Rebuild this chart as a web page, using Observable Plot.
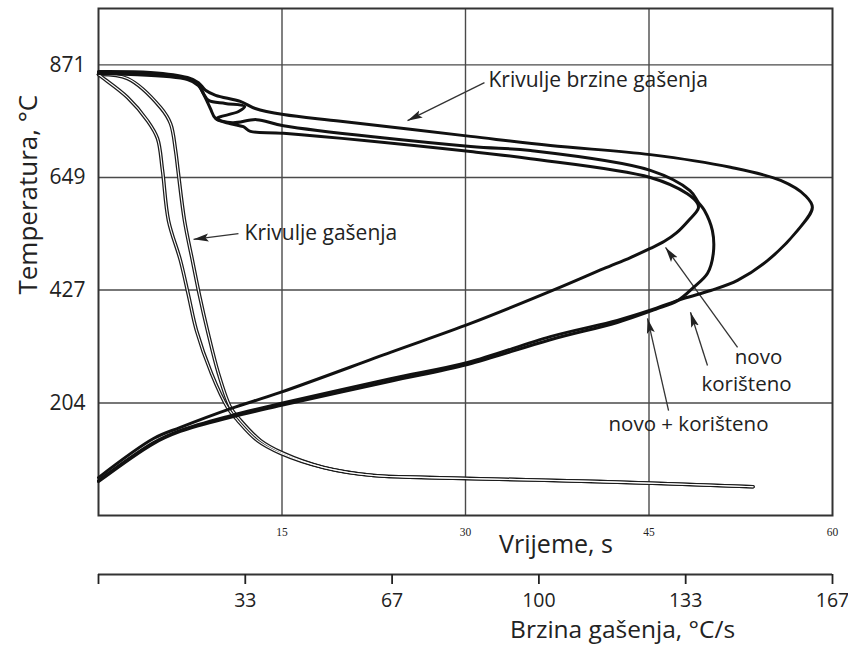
<!DOCTYPE html>
<html><head><meta charset="utf-8">
<script src="https://cdn.jsdelivr.net/npm/d3@7"></script>
<script src="https://cdn.jsdelivr.net/npm/@observablehq/plot@0.6"></script>
<style>
body{margin:0;background:#fff;font-family:"Open Sans",sans-serif;}
#wrap{position:relative;width:848px;height:654px;overflow:hidden;}
#wrap svg{display:block;}
#overlay{position:absolute;left:0;top:0;}
</style></head><body>
<div id="wrap"><div id="main"></div><div id="overlay"></div><div id="rate"></div></div>
<script>
// ---- axes / ticks ----
const timeTicks = [15, 30, 45, 60];
const tempTicks = [204, 427, 649, 871];
const rateTicks = [0, 33.33, 66.67, 100, 133.33, 166.67];
const TEMP_DOMAIN = [-17.78, 982.22];
const TIME_DOMAIN = [0, 60];
const RATE_DOMAIN = [0, 166.67];

// ---- cooling curves (time s, temperature °C) ----
const coolTime1 = [0, 0.33, 2.37, 4.0, 4.82, 5.23, 5.72, 6.7, 7.36, 8.01, 9.24, 10.55, 11.37, 13.0, 14.88, 18.4, 22.5, 27.1, 41.0, 53.5];
const coolTemp1 = [852, 846, 807, 761, 726, 663, 564, 485, 416, 347, 262, 195, 170, 130, 105, 77, 61, 57, 49, 39];
const coolTime2 = [0, 2.37, 5.07, 5.89, 6.3, 6.5, 7.03, 7.68, 8.26, 8.91, 9.81, 10.8, 11.6, 13.25, 15.1, 18.4, 22.5, 27.1, 41.0, 53.5];
const coolTemp2 = [852, 844, 787, 755, 702, 663, 564, 485, 416, 347, 262, 195, 170, 130, 105, 77, 61, 57, 49, 39];

// ---- cooling-rate curves (rate °C/s, temperature °C) ----
const rateA = [0, 11.8, 20.2, 22.7, 24.3, 26.6, 32.2, 35.6, 42.0, 55.0, 84.5, 102.6, 125.3, 143.5, 154.9, 160.5, 162.1, 158.7, 151.9, 145.1, 139.0, 132.8, 125.3, 117.8, 102.6, 83.8, 66.3, 41.3, 30.0, 18.6, 12.5, 0];
const tempA = [858, 856, 846, 836, 821, 811, 799, 785, 773, 760, 730, 712, 694, 669, 643, 613, 590, 544, 485, 446, 426, 410, 387, 367, 335, 284, 252, 203, 179, 150, 126, 51];
const rateB = [0, 20.2, 22.7, 23.8, 25.0, 28.8, 33.2, 31.8, 26.8, 30.4, 35.9, 42.0, 84.5, 98.1, 125.3, 134.3, 136.2, 137.6, 139.4, 139.6, 138.3, 135.1, 131.5, 126.5, 117.8, 102.6, 83.8, 66.3, 41.3, 30.0, 18.6, 12.5, 0];
const tempB = [856, 844, 832, 815, 801, 795, 789, 779, 765, 757, 763, 751, 710, 702, 663, 623, 600, 584, 544, 499, 460, 432, 406, 389, 363, 329, 280, 247, 199, 176, 148, 124, 49];
const rateC = [0, 20.2, 22.7, 24.1, 25.4, 26.6, 30.0, 32.9, 34.5, 42.0, 84.5, 98.1, 125.3, 133.7, 136.0, 136.2, 134.0, 131.3, 128.5, 125.3, 120.8, 114.7, 104.2, 84.5, 66.3, 41.3, 30.0, 18.6, 12.5, 0];
const tempC = [854, 842, 830, 809, 785, 765, 755, 749, 740, 736, 700, 686, 649, 617, 598, 588, 564, 540, 523, 509, 491, 469, 430, 361, 304, 225, 193, 156, 134, 57];

// ---- annotations (time s, temperature °C) ----
const notesStart = [
  {t: 31.88, T: 840, text: "Krivulje brzine gašenja"},
  {t: 11.94, T: 538, text: "Krivulje gašenja"}
];
const notesMiddle = [
  {t: 53.95, T: 294, text: "novo"},
  {t: 52.97, T: 240, text: "korišteno"},
  {t: 48.23, T: 162, text: "novo + korišteno"}
];
const arrows = [
  {t1: 31.55, T1: 836, t2: 25.26, T2: 761},
  {t1: 11.44, T1: 538, t2: 7.77, T2: 527},
  {t1: 52.24, T1: 314, t2: 46.35, T2: 511},
  {t1: 49.78, T1: 278, t2: 48.39, T2: 383},
  {t1: 46.6, T1: 189, t2: 44.88, T2: 371}
];

// ---- tables ----
const cool = [
  ...coolTime1.map((t, i) => ({s: "c1", t, T: coolTemp1[i]})),
  ...coolTime2.map((t, i) => ({s: "c2", t, T: coolTemp2[i]}))
];
const rates = [
  ...rateA.map((r, i) => ({s: "A", r, T: tempA[i]})),
  ...rateB.map((r, i) => ({s: "B", r, T: tempB[i]})),
  ...rateC.map((r, i) => ({s: "C", r, T: tempC[i]}))
];

const W = 848, H = 565, ML = 98, MR = 16, MT = 8, MB = 50;
const INK = "#1c1c1c", GRID = "#4a4a4a";
const FONT = "'Open Sans', sans-serif";

const main = Plot.plot({
  width: W, height: H, marginLeft: ML, marginRight: MR, marginTop: MT, marginBottom: MB,
  style: {fontFamily: FONT, background: "white", color: "#222"},
  x: {domain: TIME_DOMAIN},
  y: {domain: TEMP_DOMAIN},
  marks: [
    Plot.ruleX(timeTicks.filter(d => d < 60), {stroke: GRID, strokeWidth: 1.4}),
    Plot.ruleY(tempTicks, {stroke: GRID, strokeWidth: 1.4}),
    Plot.frame({stroke: "#333", strokeWidth: 2}),
    Plot.axisY({ticks: tempTicks, tickSize: 0, tickPadding: 13, fontSize: 21, label: null, tickFormat: d => String(d)}),
    Plot.axisX({ticks: timeTicks, tickSize: 0, tickPadding: 12, fontSize: 11.5, fontFamily: "Liberation Serif", label: null}),
    Plot.line(cool, {x: "t", y: "T", z: "s", stroke: INK, strokeWidth: 3.6, curve: "catmull-rom"}),
    Plot.line(cool, {x: "t", y: "T", z: "s", stroke: "white", strokeWidth: 1.1, curve: "catmull-rom"}),
    Plot.link(arrows, {x1: "t1", y1: "T1", x2: "t2", y2: "T2", stroke: "#333", strokeWidth: 1.3}),
    Plot.text(notesStart, {x: "t", y: "T", text: "text", textAnchor: "start", fontSize: 21, fill: "#222"}),
    Plot.text(notesMiddle, {x: "t", y: "T", text: "text", textAnchor: "middle", fontSize: 20.5, lineHeight: 1, fill: "#222"}),
    Plot.text([{t: 37.4, label: "Vrijeme, s"}], {x: "t", text: "label", frameAnchor: "bottom", dy: 37, fontSize: 25, fill: "#222"}),
    Plot.text([{T: 615, label: "Temperatura, °C"}], {y: "T", text: "label", frameAnchor: "left", textAnchor: "middle", dx: -70, rotate: -90, fontSize: 26, fill: "#222"})
  ]
});

const overlay = Plot.plot({
  width: W, height: H, marginLeft: ML, marginRight: MR, marginTop: MT, marginBottom: MB,
  style: {background: "transparent"},
  x: {domain: RATE_DOMAIN, axis: null},
  y: {domain: TEMP_DOMAIN, axis: null},
  marks: [
    Plot.line(rates, {x: "r", y: "T", z: "s", stroke: "#111", strokeWidth: 3, curve: "catmull-rom", strokeLinejoin: "round"})
  ]
});

const rateAxis = Plot.plot({
  width: W, height: 89, marginLeft: ML, marginRight: MR, marginTop: 5, marginBottom: 80,
  style: {fontFamily: FONT, background: "white", color: "#222"},
  x: {domain: RATE_DOMAIN},
  y: {domain: [0, 1], axis: null},
  marks: [
    Plot.ruleY([0], {stroke: "#333", strokeWidth: 2}),
    Plot.axisX({ticks: rateTicks, tickSize: 10, tickPadding: 9, fontSize: 19.5, strokeWidth: 1.8, label: null,
      tickFormat: d => d === 0 ? "" : String(Math.round(d))}),
    Plot.text([{r: 119, label: "Brzina gašenja, °C/s"}], {x: "r", text: "label", frameAnchor: "bottom", dy: 63, fontSize: 24.5, fill: "#222"})
  ]
});

// filled arrowheads on annotation links
const NS = "http://www.w3.org/2000/svg";
const defs = document.createElementNS(NS, "defs");
const marker = document.createElementNS(NS, "marker");
marker.setAttribute("id", "ahead");
marker.setAttribute("markerUnits", "userSpaceOnUse");
marker.setAttribute("markerWidth", "16");
marker.setAttribute("markerHeight", "10");
marker.setAttribute("refX", "15");
marker.setAttribute("refY", "5");
marker.setAttribute("orient", "auto");
const mp = document.createElementNS(NS, "path");
mp.setAttribute("d", "M0,1 L15,5 L0,9 L3,5 Z");
mp.setAttribute("fill", "#222");
marker.appendChild(mp);
defs.appendChild(marker);
main.insertBefore(defs, main.firstChild);
main.querySelectorAll('g[aria-label="link"] path').forEach(p => p.setAttribute("marker-end", "url(#ahead)"));

document.getElementById("main").appendChild(main);
document.getElementById("overlay").appendChild(overlay);
document.getElementById("rate").appendChild(rateAxis);
</script>
</body></html>
